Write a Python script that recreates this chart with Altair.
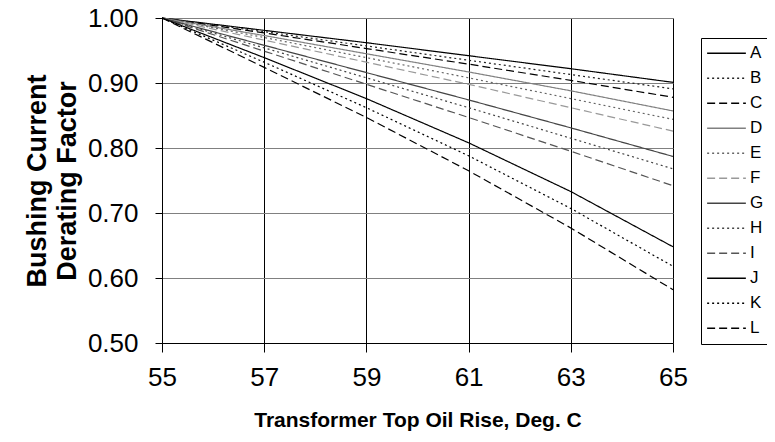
import altair as alt
import pandas as pd

x_vals = [55, 57, 59, 61, 63, 65]
series_names = ["A", "B", "C", "D", "E", "F", "G", "H", "I", "J", "K", "L"]
A = [1.000, 0.981, 0.962, 0.942, 0.922, 0.901]
B = [1.000, 0.979, 0.957, 0.935, 0.913, 0.891]
C = [1.000, 0.977, 0.953, 0.929, 0.904, 0.878]
D = [1.000, 0.973, 0.945, 0.917, 0.888, 0.857]
E = [1.000, 0.970, 0.939, 0.908, 0.876, 0.844]
F = [1.000, 0.966, 0.932, 0.898, 0.862, 0.826]
G = [1.000, 0.958, 0.916, 0.874, 0.831, 0.787]
H = [1.000, 0.954, 0.908, 0.862, 0.815, 0.768]
I = [1.000, 0.949, 0.898, 0.847, 0.795, 0.742]
J = [1.000, 0.939, 0.876, 0.808, 0.733, 0.648]
K = [1.000, 0.932, 0.862, 0.788, 0.707, 0.618]
L = [1.000, 0.924, 0.847, 0.765, 0.677, 0.582]
series_values = [A, B, C, D, E, F, G, H, I, J, K, L]

line_colors = ["#000000", "#222222", "#000000", "#808080", "#666666", "#999999",
               "#444444", "#444444", "#555555", "#000000", "#000000", "#000000"]
solid, dotted, dashed = [1, 0], [2, 3], [8, 4]
line_dashes = [solid, dotted, dashed] * 4

rows = []
for name, vals in zip(series_names, series_values):
    for xv, yv in zip(x_vals, vals):
        rows.append({"series": name, "rise": xv, "factor": yv})
df = pd.DataFrame(rows)

FONT = "Arial, Liberation Sans, sans-serif"


def make_legend():
    return alt.Legend(title=None, orient="none", legendX=539, legendY=20,
                      strokeColor="#000000", padding=3,
                      symbolType="stroke", symbolSize=1500, symbolOffset=2,
                      symbolStrokeWidth=1.5, labelFontSize=17,
                      labelFont=FONT, labelColor="#000000",
                      labelOffset=3, rowPadding=0, clipHeight=24.5)


lines = alt.Chart(df).mark_line(strokeWidth=1.2).encode(
    x=alt.X("rise:Q", scale=alt.Scale(domain=[55, 65], nice=False, zero=False),
            axis=alt.Axis(values=[55, 57, 59, 61, 63, 65], format="d",
                          title="Transformer Top Oil Rise, Deg. C",
                          grid=True, gridColor="#000000", gridWidth=1,
                          tickSize=9, tickColor="#000000", domainColor="#000000",
                          labelFontSize=26, labelPadding=12, labelFont=FONT,
                          labelColor="#000000", labelFlush=False,
                          titleFont=FONT, titleFontSize=21, titleFontWeight="bold",
                          titlePadding=19, titleColor="#000000")),
    y=alt.Y("factor:Q", scale=alt.Scale(domain=[0.5, 1.0], nice=False, zero=False),
            axis=alt.Axis(values=[0.5, 0.6, 0.7, 0.8, 0.9, 1.0], format=".2f",
                          title=["Bushing Current", "Derating Factor"],
                          grid=True, gridColor="#808080", gridWidth=1,
                          tickSize=7, tickColor="#000000", domainColor="#000000",
                          labelFontSize=26, labelPadding=17, labelFont=FONT,
                          labelColor="#000000", labelFlush=False,
                          titleFont=FONT, titleFontSize=27, titleFontWeight="bold",
                          titleLineHeight=30, titlePadding=6, titleColor="#000000")),
    color=alt.Color("series:N", scale=alt.Scale(domain=series_names, range=line_colors),
                    legend=make_legend()),
    strokeDash=alt.StrokeDash("series:N", scale=alt.Scale(domain=series_names, range=line_dashes),
                              legend=make_legend()),
)

chart = lines.properties(
    width=511, height=325,
    autosize=alt.AutoSizeParams(type="none"),
    padding={"left": 154, "top": 10, "right": 94, "bottom": 91},
).configure_view(stroke="#000000", strokeWidth=1).configure(background="white")

chart.save("out.html", embed_options={"renderer": "svg", "actions": False})
